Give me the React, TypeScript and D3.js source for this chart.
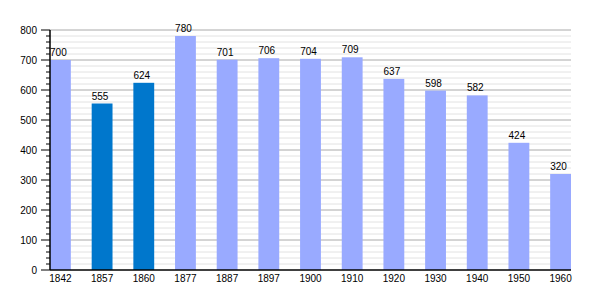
import React from "react";
import * as d3 from "d3";

const years = ["1842", "1857", "1860", "1877", "1887", "1897", "1900", "1910", "1920", "1930", "1940", "1950", "1960"];
const population = [700, 555, 624, 780, 701, 706, 704, 709, 637, 598, 582, 424, 320];
const highlighted = ["1857", "1860"];
const yTicks = [0, 100, 200, 300, 400, 500, 600, 700, 800];

const W = 600;
const H = 300;
const left = 50;
const right = 571;
const top = 30;
const bottom = 270;

export default function App() {
  const x = d3.scaleBand<string>().domain(years).range([left, right]).paddingInner(0.5).paddingOuter(0).align(0);
  const y = d3.scaleLinear().domain([0, 800]).range([bottom, top]);
  const minor = d3.range(0, 801, 20);
  const font = "'Liberation Sans', Arial, sans-serif";

  return (
    <svg width={W} height={H} style={{ position: "absolute", left: 0, top: 0, background: "#fff" }}>
      {minor.filter((v) => v % 100 !== 0).map((v) => (
        <line key={"m" + v} x1={left} x2={right} y1={y(v)} y2={y(v)} stroke="#e2e2e2" strokeWidth={1} />
      ))}
      {yTicks.filter((v) => v > 0).map((v) => (
        <line key={"g" + v} x1={left} x2={right} y1={y(v)} y2={y(v)} stroke="#aaaaaa" strokeWidth={1} />
      ))}
      {years.map((yr, i) => (
        <rect
          key={yr}
          x={x(yr)}
          y={y(population[i])}
          width={x.bandwidth()}
          height={bottom - y(population[i])}
          fill={highlighted.includes(yr) ? "#0077cc" : "#99aaff"}
        />
      ))}
      {years.map((yr, i) => (
        <text
          key={"v" + yr}
          x={(x(yr) as number) + x.bandwidth() / 2 - 2}
          y={y(population[i]) - 4}
          textAnchor="middle"
          fontFamily={font}
          fontSize={10}
          fill="#000"
        >
          {population[i]}
        </text>
      ))}
      {minor.map((v) => (
        <line key={"t" + v} x1={v % 100 === 0 ? left - 9 : left - 4} x2={left} y1={y(v)} y2={y(v)} stroke="#000" strokeWidth={1} />
      ))}
      <line x1={left} x2={left} y1={top} y2={bottom} stroke="#000" strokeWidth={1.5} />
      <line x1={left} x2={right} y1={bottom} y2={bottom} stroke="#000" strokeWidth={1.5} />
      {yTicks.map((v) => (
        <text key={"yl" + v} x={37} y={y(v) + 3.5} textAnchor="end" fontFamily={font} fontSize={10} fill="#000">
          {v}
        </text>
      ))}
      {years.map((yr) => (
        <text
          key={"xl" + yr}
          x={(x(yr) as number) + x.bandwidth() / 2}
          y={282}
          textAnchor="middle"
          fontFamily={font}
          fontSize={10}
          fill="#000"
        >
          {yr}
        </text>
      ))}
    </svg>
  );
}
